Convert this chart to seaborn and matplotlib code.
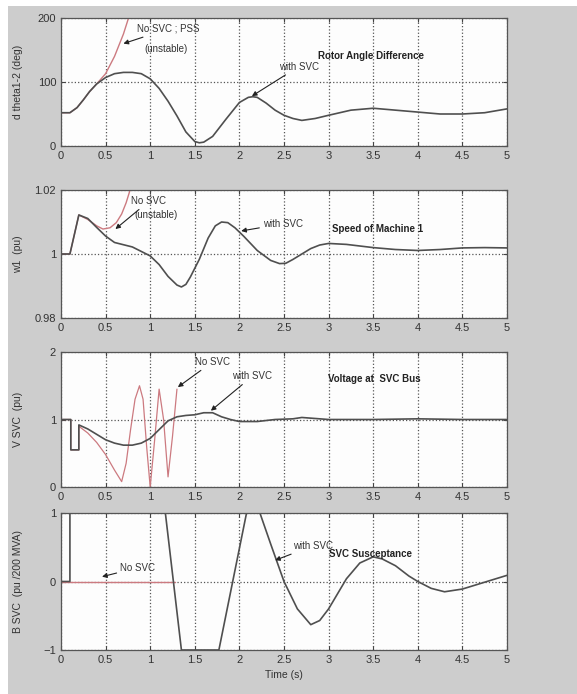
import matplotlib
matplotlib.use("Agg")
import matplotlib.pyplot as plt
from matplotlib.patches import Rectangle
import seaborn as sns

# ---- Data ----
x_ticks = [0, 0.5, 1, 1.5, 2, 2.5, 3, 3.5, 4, 4.5, 5]
x_tick_labels = ["0", "0.5", "1", "1.5", "2", "2.5", "3", "3.5", "4", "4.5", "5"]

# rotor angle difference (deg)
t_angle = [0, 0.1, 0.18, 0.25, 0.32, 0.4, 0.5, 0.6, 0.7, 0.8, 0.9, 1.0, 1.1, 1.2, 1.3,
           1.4, 1.5, 1.55, 1.6, 1.7, 1.85, 2.0, 2.1, 2.15, 2.2, 2.3, 2.4, 2.5, 2.6,
           2.7, 2.85, 3.0, 3.25, 3.5, 3.75, 4.0, 4.25, 4.5, 4.75, 5.0]
angle_svc = [52, 52, 60, 72, 85, 97, 107, 113, 115, 115, 113, 105, 90, 70, 47,
             22, 7, 5, 6, 15, 42, 68, 76, 77, 76, 67, 56, 48, 43, 40, 43, 48, 56, 59,
             56, 53, 50, 50, 52, 58]
t_angle_nosvc = [0, 0.1, 0.18, 0.25, 0.32, 0.4, 0.5, 0.6, 0.7, 0.78]
angle_nosvc = [52, 52, 60, 72, 85, 97, 113, 140, 175, 210]

# speed of machine 1 (pu)
t_speed = [0, 0.1, 0.2, 0.3, 0.4, 0.5, 0.6, 0.8, 1.0, 1.1, 1.2, 1.3, 1.35, 1.4, 1.45,
           1.55, 1.65, 1.73, 1.8, 1.87, 1.95, 2.05, 2.2, 2.35, 2.45, 2.52, 2.6, 2.7,
           2.8, 2.9, 3.0, 3.2, 3.5, 3.75, 4.0, 4.25, 4.5, 4.75, 5.0]
speed_svc = [1.0, 1.0, 1.0122, 1.0111, 1.0083, 1.0056, 1.0036, 1.0022, 0.9994, 0.9967,
             0.9930, 0.9903, 0.9897, 0.9905, 0.9928, 0.9983, 1.0050, 1.0088, 1.0100,
             1.0098, 1.0082, 1.0055, 1.0011, 0.9980, 0.9970, 0.9971, 0.9983, 1.0000,
             1.0017, 1.0028, 1.0033, 1.0030, 1.0020, 1.0014, 1.0011, 1.0014, 1.0019,
             1.0020, 1.0019]
t_speed_nosvc = [0, 0.1, 0.2, 0.3, 0.4, 0.47, 0.55, 0.62, 0.68, 0.73, 0.78]
speed_nosvc = [1.0, 1.0, 1.0122, 1.0108, 1.0088, 1.0078, 1.0082, 1.0098, 1.0125,
               1.0160, 1.0205]

# voltage at SVC bus (pu)
t_volt = [0, 0.11, 0.11, 0.2, 0.2, 0.3, 0.4, 0.5, 0.6, 0.7, 0.8, 0.9, 1.0, 1.1, 1.2,
          1.3, 1.4, 1.5, 1.6, 1.7, 1.8, 1.9, 2.0, 2.2, 2.4, 2.6, 2.7, 2.8, 3.0, 3.5,
          4.0, 4.5, 5.0]
volt_svc = [1.0, 1.0, 0.55, 0.55, 0.92, 0.86, 0.78, 0.70, 0.65, 0.62, 0.62, 0.65,
            0.72, 0.85, 0.98, 1.04, 1.06, 1.07, 1.10, 1.10, 1.04, 1.0, 0.97, 0.97,
            1.0, 1.01, 1.03, 1.02, 1.0, 1.0, 1.01, 1.0, 1.0]
t_volt_nosvc = [0, 0.11, 0.11, 0.2, 0.2, 0.3, 0.4, 0.5, 0.6, 0.68, 0.73, 0.78, 0.83,
                0.88, 0.92, 0.96, 1.0, 1.05, 1.1, 1.15, 1.2, 1.25, 1.3]
volt_nosvc = [1.0, 1.0, 0.55, 0.55, 0.90, 0.80, 0.66, 0.48, 0.25, 0.08, 0.35, 0.85,
              1.30, 1.50, 1.30, 0.60, 0.0, 0.70, 1.45, 1.00, 0.15, 0.75, 1.45]

# SVC susceptance (pu /200 MVA)
t_bsvc = [0, 0.1, 0.1, 1.17, 1.35, 1.77, 2.08, 2.23, 2.35, 2.5, 2.65, 2.8, 2.9, 3.0,
          3.1, 3.2, 3.35, 3.5, 3.6, 3.75, 3.9, 4.0, 4.15, 4.3, 4.5, 4.75, 5.0]
bsvc_svc = [0, 0, 1, 1, -1, -1, 1, 1, 0.55, 0.0, -0.40, -0.63, -0.57, -0.40, -0.18,
            0.04, 0.27, 0.36, 0.33, 0.23, 0.08, 0.0, -0.10, -0.15, -0.11, -0.01, 0.09]
t_bsvc_nosvc = [0, 1.28]
bsvc_nosvc = [0, 0]

# ---- Styling ----
sns.set_style("ticks")
plt.rcParams["font.family"] = ["Liberation Sans", "DejaVu Sans"]
plt.rcParams["xtick.direction"] = "in"
plt.rcParams["ytick.direction"] = "in"

svc_color = "#4f4f4f"
nosvc_color = "#cc7a80"
bg_color = "#cdcdcd"

fig = plt.figure(figsize=(5.77, 6.94), dpi=100, facecolor="white")
fig.patches.append(Rectangle((8 / 577, 0), 1 - 8 / 577, 1 - 6 / 694,
                             transform=fig.transFigure, facecolor=bg_color,
                             edgecolor="none", zorder=-5))

left, width = 61 / 577, 446 / 577
panels = [
    # (top px, bottom px)
    (18, 146),
    (190, 318),
    (352, 487),
    (513, 650),
]
axes = [fig.add_axes([left, 1 - b / 694, width, (b - t) / 694]) for t, b in panels]


def draw(ax, x, y, color, lw):
    sns.lineplot(x=x, y=y, ax=ax, color=color, lw=lw, sort=False, estimator=None)


def style_axis(ax, yticks, ylim, ylabel):
    ax.set_facecolor("#fdfdfd")
    ax.set_xlim(0, 5)
    ax.set_ylim(*ylim)
    ax.set_xticks(x_ticks)
    ax.set_xticklabels(x_tick_labels)
    ax.set_yticks(yticks)
    ax.grid(True, linestyle=":", color="#555555", linewidth=0.9)
    ax.tick_params(labelsize=8, length=3, color="#444444", labelcolor="#333333",
                   top=True, right=True)
    for s in ax.spines.values():
        s.set_color("#555555")
        s.set_linewidth(0.9)
    ax.set_ylabel(ylabel, fontsize=7.5, color="#333333")
    ax.yaxis.set_label_coords(-0.085, 0.5)
    ax.set_xlabel("")


def note(ax, text, xy, xytext):
    ax.annotate(text, xy=xy, xytext=xytext, fontsize=7, color="#333333",
                va="center",
                arrowprops=dict(arrowstyle="-|>", color="#222222", lw=0.8,
                                mutation_scale=7, shrinkA=0, shrinkB=0))


# panel 1: rotor angle
ax = axes[0]
draw(ax, t_angle_nosvc, angle_nosvc, nosvc_color, 1.0)
draw(ax, t_angle, angle_svc, svc_color, 1.2)
style_axis(ax, [0, 100, 200], (0, 200), "d theta1-2 (deg)")
note(ax, "No SVC ; PSS", (0.70, 160), (0.85, 183))
ax.text(0.93, 152, "(unstable)", fontsize=7, color="#333333", va="center")
note(ax, "with SVC", (2.14, 78), (2.44, 124))
ax.text(2.88, 140, "Rotor Angle Difference", fontsize=7, fontweight="bold",
        color="#222222", va="center")

# panel 2: speed
ax = axes[1]
draw(ax, t_speed_nosvc, speed_nosvc, nosvc_color, 1.0)
draw(ax, t_speed, speed_svc, svc_color, 1.2)
style_axis(ax, [0.98, 1.0, 1.02], (0.98, 1.02), "w1  (pu)")
ax.set_yticklabels(["0.98", "1", "1.02"])
note(ax, "No SVC", (0.61, 1.0078), (0.79, 1.0165))
ax.text(0.82, 1.0122, "(unstable)", fontsize=7, color="#333333", va="center")
note(ax, "with SVC", (2.02, 1.0072), (2.26, 1.0094))
ax.text(3.04, 1.0078, "Speed of Machine 1", fontsize=7, fontweight="bold",
        color="#222222", va="center")

# panel 3: voltage
ax = axes[2]
draw(ax, t_volt_nosvc, volt_nosvc, nosvc_color, 0.9)
draw(ax, t_volt, volt_svc, svc_color, 1.2)
style_axis(ax, [0, 1, 2], (0, 2), "V SVC  (pu)")
note(ax, "No SVC", (1.31, 1.48), (1.50, 1.85))
note(ax, "with SVC", (1.68, 1.13), (1.92, 1.64))
ax.text(2.99, 1.6, "Voltage at  SVC Bus", fontsize=7, fontweight="bold",
        color="#222222", va="center")

# panel 4: susceptance
ax = axes[3]
draw(ax, t_bsvc_nosvc, bsvc_nosvc, nosvc_color, 1.0)
draw(ax, t_bsvc, bsvc_svc, svc_color, 1.2)
style_axis(ax, [-1, 0, 1], (-1, 1), "B SVC  (pu /200 MVA)")
note(ax, "No SVC", (0.46, 0.07), (0.66, 0.2))
note(ax, "with SVC", (2.40, 0.31), (2.60, 0.52))
ax.text(3.0, 0.40, "SVC Susceptance", fontsize=7, fontweight="bold",
        color="#222222", va="center")
ax.set_xlabel("Time (s)", fontsize=7.5, color="#333333", labelpad=4)

fig.savefig("out.png", dpi=100, facecolor=fig.get_facecolor())
